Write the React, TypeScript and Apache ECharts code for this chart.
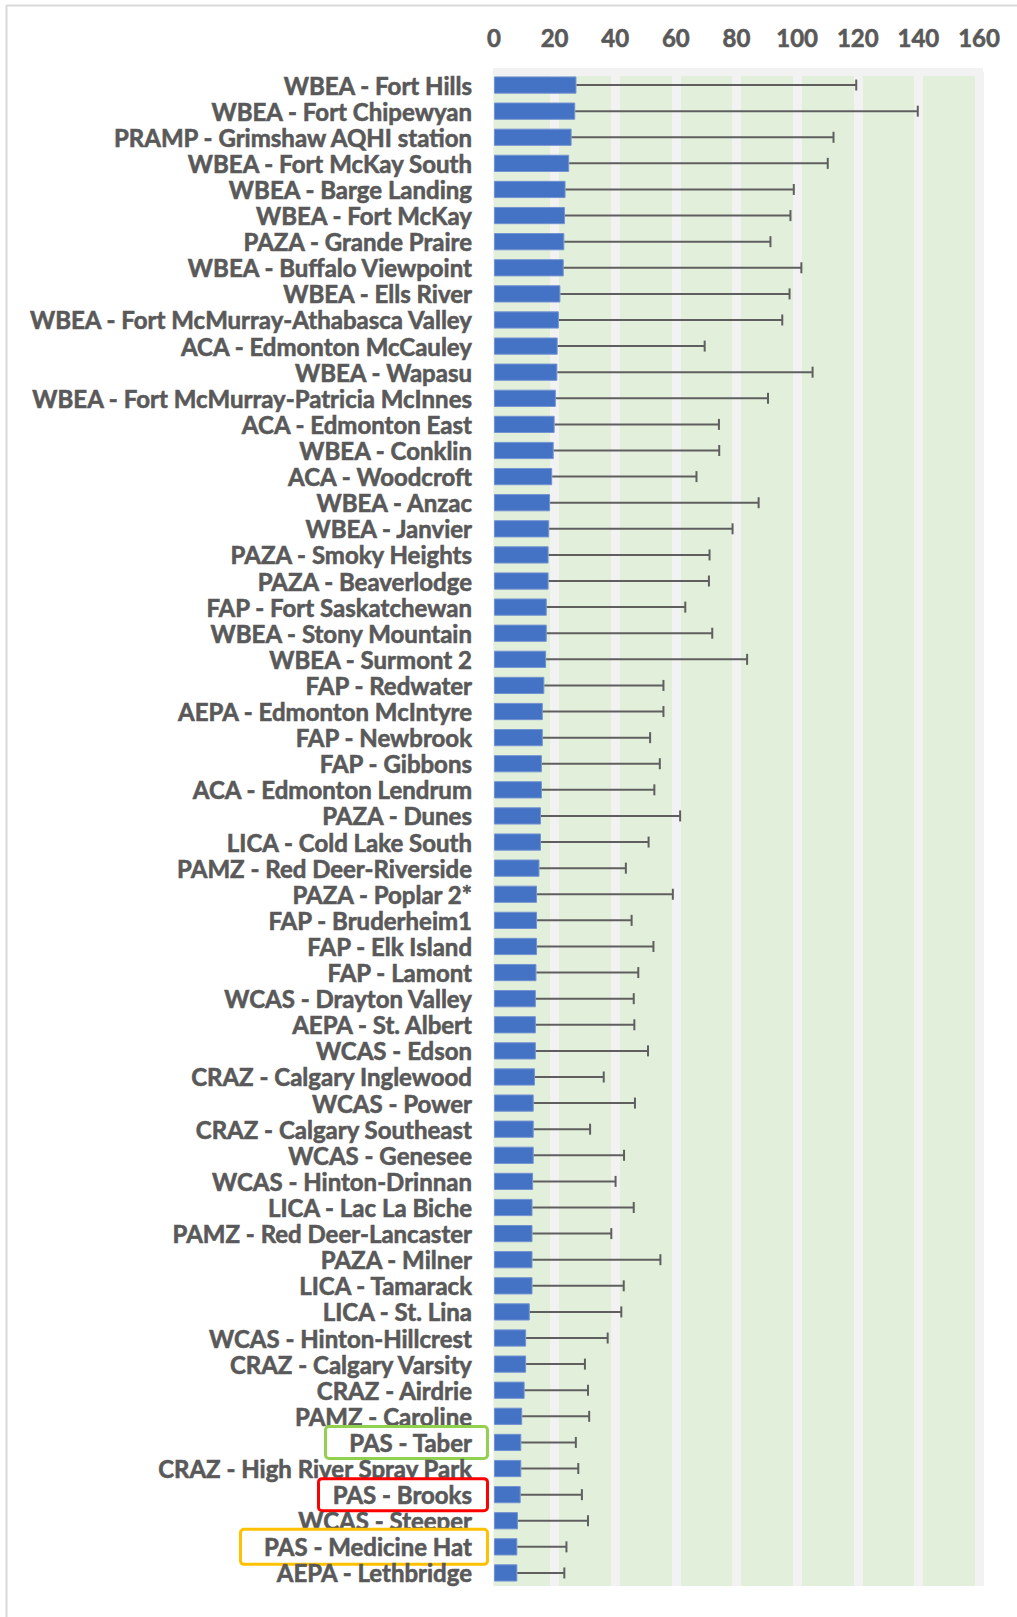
import React, { useEffect, useRef } from "react";
import * as echarts from "echarts";

const categories = [
  "WBEA - Fort Hills",
  "WBEA - Fort Chipewyan",
  "PRAMP - Grimshaw AQHI station",
  "WBEA - Fort McKay South",
  "WBEA - Barge Landing",
  "WBEA - Fort McKay",
  "PAZA - Grande Praire",
  "WBEA - Buffalo Viewpoint",
  "WBEA - Ells River",
  "WBEA - Fort McMurray-Athabasca Valley",
  "ACA - Edmonton McCauley",
  "WBEA - Wapasu",
  "WBEA - Fort McMurray-Patricia McInnes",
  "ACA - Edmonton East",
  "WBEA - Conklin",
  "ACA - Woodcroft",
  "WBEA - Anzac",
  "WBEA - Janvier",
  "PAZA - Smoky Heights",
  "PAZA - Beaverlodge",
  "FAP - Fort Saskatchewan",
  "WBEA - Stony Mountain",
  "WBEA - Surmont 2",
  "FAP - Redwater",
  "AEPA - Edmonton McIntyre",
  "FAP - Newbrook",
  "FAP - Gibbons",
  "ACA - Edmonton Lendrum",
  "PAZA - Dunes",
  "LICA - Cold Lake South",
  "PAMZ - Red Deer-Riverside",
  "PAZA - Poplar 2*",
  "FAP - Bruderheim1",
  "FAP - Elk Island",
  "FAP - Lamont",
  "WCAS - Drayton Valley",
  "AEPA - St. Albert",
  "WCAS - Edson",
  "CRAZ - Calgary Inglewood",
  "WCAS - Power",
  "CRAZ - Calgary Southeast",
  "WCAS - Genesee",
  "WCAS - Hinton-Drinnan",
  "LICA - Lac La Biche",
  "PAMZ - Red Deer-Lancaster",
  "PAZA - Milner",
  "LICA - Tamarack",
  "LICA - St. Lina",
  "WCAS - Hinton-Hillcrest",
  "CRAZ - Calgary Varsity",
  "CRAZ - Airdrie",
  "PAMZ - Caroline",
  "PAS - Taber",
  "CRAZ - High River Spray Park",
  "PAS - Brooks",
  "WCAS - Steeper",
  "PAS - Medicine Hat",
  "AEPA - Lethbridge",
];

const means = [
  27.2, 26.8, 25.6, 24.8, 23.6, 23.4, 23.2, 23.0, 21.9, 21.4,
  21.0, 20.9, 20.4, 20.0, 19.7, 19.2, 18.5, 18.2, 18.0, 18.0,
  17.4, 17.4, 17.2, 16.6, 16.1, 16.1, 15.8, 15.8, 15.5, 15.5,
  15.0, 14.2, 14.2, 14.2, 14.0, 13.8, 13.8, 13.8, 13.5, 13.1,
  13.1, 13.1, 12.9, 12.7, 12.7, 12.7, 12.7, 11.8, 10.6, 10.6,
  10.1, 9.3, 9.0, 9.0, 8.8, 7.9, 7.7, 7.7,
];

const upperBars = [
  119.5, 139.8, 112.0, 110.1, 98.9, 97.8, 91.2, 101.4, 97.5, 95.1,
  69.5, 105.1, 90.4, 74.2, 74.3, 66.8, 87.3, 78.7, 71.1, 70.9,
  63.1, 72.0, 83.5, 55.9, 55.9, 51.5, 54.7, 52.9, 61.4, 51.0,
  43.5, 59.0, 45.4, 52.6, 47.6, 46.1, 46.3, 50.8, 36.2, 46.5,
  31.7, 42.9, 40.1, 46.1, 38.7, 54.9, 42.8, 42.0, 37.5, 30.0,
  31.0, 31.4, 27.0, 27.8, 29.0, 31.0, 23.9, 23.2,
];

const xMin = 0;
const xMax = 160;
const xInterval = 20;

// highlighted labels: name -> box colour and left edge of box
const highlights = [
  { name: "PAS - Taber", key: "g", color: "#92d050", boxLeft: 327, padV: 2.5 },
  { name: "PAS - Brooks", key: "r", color: "#ff0000", boxLeft: 320, padV: 2.5 },
  { name: "PAS - Medicine Hat", key: "o", color: "#ffc000", boxLeft: 242, padV: 4 },
];

const FONT_FAMILY = "Lato";
const FONT_SIZE = 24;
const FONT_WEIGHT = 700;
const TEXT_COLOR = "#595959";

export default function App() {
  const ref = useRef<HTMLDivElement>(null);

  useEffect(() => {
    if (!ref.current) return;
    const chart = echarts.init(ref.current, undefined, { renderer: "svg" });

    const gridLeft = 494;
    const gridRight = 1017 - 979;
    const gridTop = 72;
    const gridBottom = 1617 - 1586;
    const labelMargin = 8;
    const padRight = 14;
    const textRight = gridLeft - labelMargin - padRight;

    const canvas = document.createElement("canvas");
    const ctx = canvas.getContext("2d")!;
    ctx.font = `${FONT_WEIGHT} ${FONT_SIZE}px ${FONT_FAMILY}`;

    const textBase = {
      color: TEXT_COLOR,
      fontFamily: FONT_FAMILY,
      fontWeight: FONT_WEIGHT,
      fontSize: FONT_SIZE,
      textBorderColor: TEXT_COLOR,
      textBorderWidth: 0.6,
    };

    const rich: any = {
      n: { ...textBase, padding: [0, padRight, 0, 0] },
    };
    highlights.forEach((h) => {
      const w = ctx.measureText(h.name).width;
      const padLeft = Math.max(2, textRight - w - h.boxLeft);
      rich[h.key] = {
        ...textBase,
        lineHeight: 24,
        backgroundColor: "#ffffff",
        borderColor: h.color,
        borderWidth: 3,
        borderRadius: 2,
        padding: [h.padV, padRight, h.padV, padLeft],
      };
    });

    const errData = categories.map((_, i) => [i, means[i], upperBars[i]]);

    chart.setOption({
      animation: false,
      backgroundColor: "#ffffff",
      grid: {
        left: gridLeft,
        right: gridRight,
        top: gridTop,
        bottom: gridBottom,
        containLabel: false,
      },
      graphic: [
        {
          type: "rect",
          z: -10,
          silent: true,
          shape: { x: 493, y: 68, width: 490, height: 1518 },
          style: { fill: "#f2f2f2" },
        },
        {
          type: "rect",
          z: 1,
          silent: true,
          shape: { x: 493, y: 68, width: 490, height: 8 },
          style: { fill: "#f2f2f2" },
        },
        {
          type: "line",
          silent: true,
          shape: { x1: 6, y1: 5.5, x2: 1017, y2: 5.5 },
          style: { stroke: "#d9d9d9", lineWidth: 2 },
        },
        {
          type: "line",
          silent: true,
          shape: { x1: 6.5, y1: 5, x2: 6.5, y2: 1617 },
          style: { stroke: "#d9d9d9", lineWidth: 2 },
        },
      ],
      xAxis: {
        type: "value",
        position: "top",
        min: xMin,
        max: xMax,
        interval: xInterval,
        axisLine: { show: false },
        axisTick: { show: false },
        axisLabel: { ...textBase, margin: 23 },
        splitArea: {
          show: true,
          areaStyle: { color: ["#e2efda", "#e2efda"] },
        },
        splitLine: {
          show: true,
          showMinLine: false,
          lineStyle: { color: "#f2f2f2", width: 9 },
        },
      },
      yAxis: {
        type: "category",
        data: categories,
        inverse: true,
        axisLine: { show: false },
        axisTick: { show: false },
        splitLine: { show: false },
        axisLabel: {
          interval: 0,
          margin: labelMargin,
          formatter: (v: string) => {
            const h = highlights.find((x) => x.name === v);
            return h ? `{${h.key}|${v}}` : `{n|${v}}`;
          },
          rich,
        },
      },
      series: [
        {
          type: "bar",
          data: means,
          barCategoryGap: "34%",
          itemStyle: {
            color: "#4472c4",
            borderColor: "#7393d1",
            borderWidth: 1,
          },
          z: 2,
        },
        {
          type: "custom",
          data: errData,
          encode: { x: [1, 2], y: 0 },
          z: 3,
          renderItem: (params: any, api: any) => {
            const idx = api.value(0);
            const lo = api.value(1);
            const hi = api.value(2);
            const p0 = api.coord([lo, idx]);
            const p1 = api.coord([hi, idx]);
            const cap = 11;
            const style = { stroke: "#5f5f5f", lineWidth: 2 };
            return {
              type: "group",
              children: [
                {
                  type: "line",
                  shape: { x1: p0[0], y1: p0[1], x2: p1[0], y2: p1[1] },
                  style,
                },
                {
                  type: "line",
                  shape: {
                    x1: p1[0],
                    y1: p1[1] - cap / 2,
                    x2: p1[0],
                    y2: p1[1] + cap / 2,
                  },
                  style,
                },
              ],
            };
          },
        },
      ],
    });

    return () => chart.dispose();
  }, []);

  return (
    <div
      ref={ref}
      style={{ position: "absolute", left: 0, top: 0, width: 1017, height: 1617 }}
    />
  );
}
